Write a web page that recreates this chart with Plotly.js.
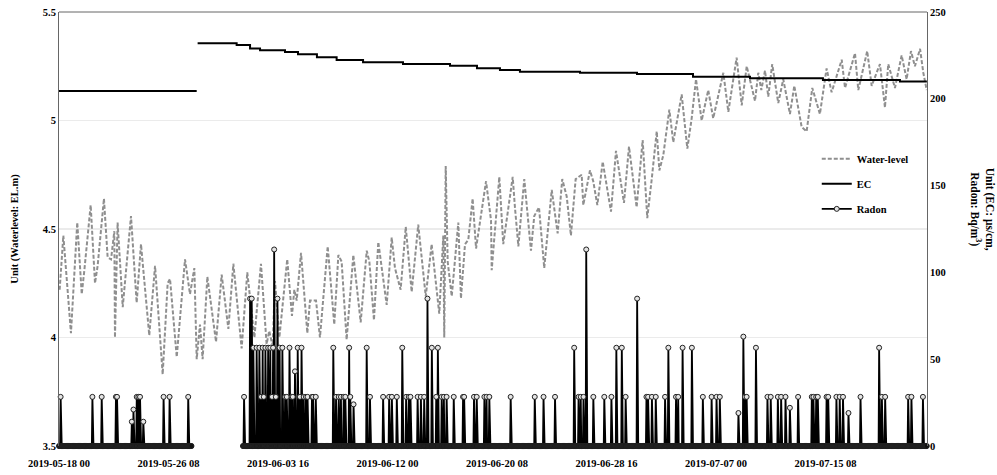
<!DOCTYPE html>
<html><head><meta charset="utf-8">
<script src="https://cdn.plot.ly/plotly-3.0.1.min.js"></script>
<style>html,body{margin:0;padding:0;background:#fff}#chart{width:997px;height:475px}</style>
</head><body><div id="chart"></div>
<script>
// ---- data (days since 2019-05-18 00:00) ----
const startDate = "2019-05-18 00:00";
const endDays = 66.06;

const wlDays = [0.05,0.33,0.91,1.39,1.73,1.93,2.41,2.74,2.94,3.42,3.70,3.96,4.21,4.26,4.46,4.85,5.48,5.91,6.24,6.87,7.31,7.89,8.27,8.45,8.96,9.59,9.97,10.30,10.48,10.73,10.93,11.29,11.95,12.38,12.89,13.27,
13.90,14.33,14.87,15.37,15.80,16.00,16.26,16.44,16.77,17.37,17.73,17.91,18.09,18.42,18.90,19.10,19.56,19.86,20.45,20.95,21.26,21.51,21.89,22.40,22.96,23.42,23.62,23.97,24.30,24.94,25.32,25.57,26.00,26.39,
26.84,27.34,27.91,28.36,28.94,29.25,29.32,29.43,29.58,29.89,30.39,30.59,30.90,31.15,31.48,31.74,32.50,32.88,32.93,33.51,33.81,34.53,34.70,34.96,35.41,35.92,36.17,36.53,36.93,37.50,37.95,38.30,38.64,38.96,39.32,39.78,
39.90,40.41,40.66,40.97,41.38,42.01,42.39,43.00,43.38,43.96,44.42,44.77,45.11,45.49,45.69,45.99,46.45,46.75,47.39,47.82,48.15,48.48,48.91,49.41,49.79,50.56,50.94,51.57,51.96,52.34,52.97,53.22,53.45,
53.73,53.98,54.28,54.74,55.12,55.63,55.96,56.52,56.90,57.33,57.91,58.42,58.80,59.57,59.82,60.58,60.83,61.51,61.85,62.48,62.86,63.11,63.62,64.13,64.51,64.84,65.14,65.53,65.78,66.04];
const wlVals = [4.22,4.47,4.02,4.53,4.20,4.31,4.61,4.25,4.33,4.64,4.37,4.36,4.49,4.00,4.53,4.14,4.56,4.16,4.43,4.01,4.33,3.83,4.25,4.27,3.91,4.36,4.20,4.32,3.90,4.06,3.90,4.28,3.98,4.29,4.04,4.34,
3.95,4.30,4.00,4.34,3.97,4.03,3.96,4.26,4.00,4.36,4.10,4.22,4.17,4.39,4.02,4.17,4.17,4.00,4.42,4.06,4.38,4.35,3.99,4.38,4.07,4.40,4.35,4.08,4.44,4.15,4.46,4.32,4.22,4.51,
4.21,4.52,4.19,4.43,4.11,4.47,4.00,4.79,4.35,4.19,4.53,4.18,4.43,4.45,4.64,4.41,4.72,4.54,4.31,4.74,4.43,4.74,4.60,4.42,4.73,4.40,4.56,4.60,4.32,4.68,4.48,4.73,4.65,4.47,4.73,4.75,
4.61,4.77,4.72,4.61,4.81,4.58,4.86,4.62,4.88,4.60,4.91,4.55,4.73,4.95,4.77,4.84,5.05,4.90,5.12,4.87,5.01,5.19,5.00,5.14,5.01,5.22,5.04,5.29,5.07,5.25,5.09,5.22,5.14,
5.23,5.11,5.26,5.08,5.19,5.03,5.16,4.97,4.95,5.15,5.03,5.24,5.13,5.28,5.15,5.31,5.14,5.32,5.16,5.26,5.06,5.26,5.15,5.30,5.19,5.32,5.25,5.33,5.22,5.14];

const ecDays = [0,10.48,10.50,10.55,13.52,14.54,15.30,17.20,18.19,19.63,21.13,23.14,26.18,29.76,31.81,33.56,35.08,39.65,43.99,48.25,52.59,58.14,64.00,66.05];
const ecVals = [204.5,204.5,null,232,231,229,228,227,225.6,224,222.4,221,220,219,217.6,216.6,215.6,215,214.3,212.7,211.8,210.8,210,210];

// radon: hourly record periods (hours since start) and non-zero readings
const radonPeriods = [[0,242],[336,1585]];
const radonHours = [3,61,78,104,106,133,136,142,145,148,154,191,202,236,
338,349,352,355,361,366,369,372,374,377,382,386,389,391,393,396,399,403,408,413,416,421,425,427,431,436,440,443,447,451,454,462,464,469,
501,506,511,515,520,523,530,532,538,562,568,592,603,608,617,627,634,639,642,655,661,667,673,681,689,692,699,703,708,721,738,740,758,763,777,781,786,
825,869,885,906,941,949,953,958,963,976,996,1009,1018,1028,1035,1056,1073,1076,1083,1090,1107,1113,1127,1131,1139,1156,1176,1192,1201,1207,
1241,1250,1253,1256,1273,1294,1300,1313,1319,1327,1335,1350,1375,1378,1383,1386,1402,1405,1420,1426,1432,1442,1464,1498,1503,1509,1551,1557,1578];
const radonVals = [28.3,28.3,28.3,28.3,28.3,14,21,28.3,28.3,28.3,14,28.3,28.3,28.3,
28.3,84.9,84.9,56.6,56.6,56.6,28.3,56.6,28.3,56.6,56.6,56.6,28.3,56.6,113.2,28.3,84.9,56.6,56.6,28.3,28.3,56.6,28.3,28.3,43,56.6,28.3,56.6,28.3,28.3,28.3,28.3,28.3,28.3,
56.6,28.3,28.3,28.3,28.3,28.3,56.6,28.3,24,56.6,28.3,28.3,28.3,28.3,28.3,56.6,28.3,28.3,28.3,28.3,28.3,28.3,84.9,56.6,28.3,56.6,28.3,28.3,28.3,28.3,28.3,28.3,28.3,28.3,28.3,28.3,28.3,
28.3,28.3,28.3,28.3,56.6,28.3,28.3,28.3,113.2,28.3,28.3,28.3,56.6,56.6,28.3,84.9,28.3,28.3,28.3,28.3,28.3,56.6,28.3,28.3,56.6,56.6,28.3,28.3,28.3,28.3,
19,63,28.3,28.3,56.6,28.3,28.3,28.3,28.3,28.3,22,28.3,28.3,28.3,28.3,28.3,28.3,28.3,28.3,28.3,28.3,19,28.3,56.6,28.3,28.3,28.3,28.3,28.3];

const tickFmt = "%Y-%m-%d %H";

// ---- helpers ----
const t0 = Date.UTC(2019,4,18,0,0,0);
function dstr(ms){ return new Date(ms).toISOString().slice(0,19).replace('T',' '); }
function dayToDate(d){ return dstr(t0 + d*86400000); }
function hourToDate(h){ return dstr(t0 + h*3600000); }

const wlX = wlDays.map(dayToDate);
const ecX = ecDays.map(dayToDate);

const spike = {};
radonHours.forEach((h,i)=>{ spike[h] = radonVals[i]; });
const rX = [], rY = [];
radonPeriods.forEach((p,k)=>{
  if(k>0){ rX.push(hourToDate(p[0]-1)); rY.push(null); }
  for(let h=p[0]; h<=p[1]; h++){ rX.push(hourToDate(h)); rY.push(spike[h]!==undefined ? spike[h] : 0); }
});
const rFill = rY.map(v => (v === 0 ? '#111' : '#e4e4e4'));

const FONT = 'Liberation Serif, Times New Roman, serif';
const F = (s) => ({family: FONT, size: s, color: '#000', weight: 'bold'});
const radonLine = {color: '#000', width: 1.8};
const radonMarker = {symbol: 'circle', size: 5, color: '#e4e4e4', line: {color: '#222', width: 1}};
const traces = [
  {x: wlX, y: wlVals, name: 'Water-level', type: 'scatter', mode: 'lines', legendgroup:'a',
   line: {color: '#8f8f8f', width: 2, dash: '4px,2px'}},
  {x: ecX, y: ecVals, name: 'EC', type: 'scatter', mode: 'lines', yaxis: 'y2', legendgroup:'b',
   line: {color: '#000', width: 2, shape: 'hv'}, connectgaps: false},
  {x: rX, y: rY, name: 'Radon', type: 'scatter', mode: 'lines+markers', yaxis: 'y2', legendgroup:'c',
   showlegend: false, cliponaxis: false, line: radonLine,
   marker: Object.assign({}, radonMarker, {color: rFill}), connectgaps: false},
  {x: [null], y: [null], name: 'Radon', type: 'scatter', mode: 'lines+markers', yaxis: 'y2', legendgroup:'c',
   line: radonLine, marker: radonMarker}
];

const layout = {
  width: 997, height: 475,
  margin: {l: 59, r: 70, t: 12, b: 29},
  paper_bgcolor: '#fff', plot_bgcolor: '#fff',
  font: F(10.5),
  showlegend: true,
  legend: {x: 0.873, y: 0.695, xanchor: 'left', yanchor: 'top', bgcolor: 'rgba(0,0,0,0)',
           font: F(10.5), traceorder: 'grouped', tracegroupgap: 6},
  xaxis: {type: 'date', range: [startDate, dayToDate(endDays)], tick0: startDate, dtick: 200*3600000,
          tickformat: tickFmt, showgrid: false, zeroline: false, showline: false, ticks: '',
          ticklabelstandoff: 9, tickfont: F(10.5)},
  yaxis: {range: [3.5, 5.5], dtick: 0.5, showgrid: true, gridcolor: '#ebebeb', gridwidth: 1.5,
          zeroline: false, showline: true, linecolor: '#666', linewidth: 1, ticks: '',
          tickfont: F(10.5),
          title: {text: 'Unit (Waterlevel: EL.m)', standoff: 22, font: F(10.5)}},
  yaxis2: {range: [0, 250], dtick: 50, overlaying: 'y', side: 'right', showgrid: false, zeroline: false,
           showline: true, linecolor: '#666', linewidth: 1, ticks: '', tickfont: F(10.5)},
  shapes: [{type: 'line', xref: 'paper', yref: 'paper', x0: 0, x1: 1, y0: 1, y1: 1, line: {color: '#666', width: 1}}],
  annotations: [{xref: 'paper', yref: 'paper', x: 1.063, y: 0.545, xanchor: 'center', yanchor: 'middle',
                 showarrow: false, textangle: 90, align: 'center',
                 text: 'Unit (EC: μs/cm,<br>Radon: Bq/m<sup>3</sup>)', font: F(11.5)}]
};

Plotly.newPlot('chart', traces, layout, {displayModeBar: false, staticPlot: true});
</script>
</body></html>
